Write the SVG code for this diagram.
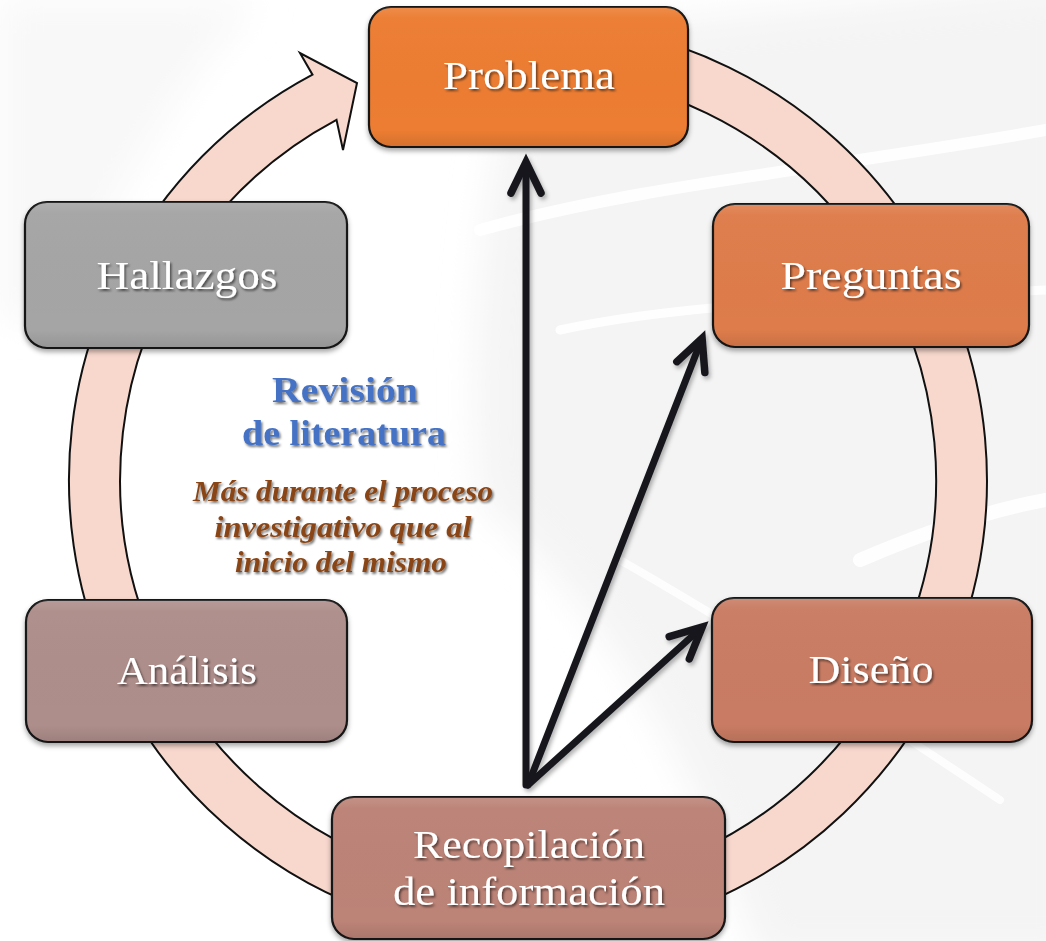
<svg xmlns="http://www.w3.org/2000/svg" width="1046" height="941" viewBox="0 0 1046 941">
<defs>
<style>
.ring{fill:#F8D8CD;stroke:#111;stroke-width:2;stroke-linejoin:miter}
.box{stroke:#141414;stroke-width:2.2}
.gloss{fill:url(#gloss);stroke:none}
.hl{stroke:url(#hlg);stroke-width:3.5;stroke-linecap:round;fill:none}
.lbl{font-family:"Liberation Serif","DejaVu Serif",serif;font-size:40px;fill:#FFFFFF;text-anchor:middle}
.rev{font-family:"Liberation Serif","DejaVu Serif",serif;font-size:35px;font-weight:bold;fill:#4472C4;text-anchor:middle}
.note{font-family:"Liberation Serif","DejaVu Serif",serif;font-size:29px;font-weight:bold;font-style:italic;fill:#8A4515;text-anchor:middle}
.arr{stroke:#15181C;stroke-width:7;stroke-linecap:round;fill:none;marker-end:url(#chev)}
.bgs{fill:none;stroke:#FFFFFF;stroke-linecap:round}
</style>
<linearGradient id="gloss" x1="0" y1="0" x2="0" y2="1">
<stop offset="0" stop-color="#FFFFFF" stop-opacity="0.12"/>
<stop offset="0.08" stop-color="#FFFFFF" stop-opacity="0.02"/>
<stop offset="0.88" stop-color="#000000" stop-opacity="0"/>
<stop offset="1" stop-color="#000000" stop-opacity="0.1"/>
</linearGradient>
<linearGradient id="hlg" x1="0" y1="0" x2="0" y2="1">
<stop offset="0" stop-color="#FFFFFF" stop-opacity="0.95"/>
<stop offset="0.5" stop-color="#FFFFFF" stop-opacity="0.8"/>
<stop offset="1" stop-color="#FFFFFF" stop-opacity="0.95"/>
</linearGradient>
<filter id="shadow" x="-10%" y="-10%" width="120%" height="130%">
<feDropShadow dx="0" dy="3" stdDeviation="2.5" flood-color="#000" flood-opacity="0.35"/>
</filter>
<filter id="tshadow" x="-10%" y="-20%" width="120%" height="150%">
<feDropShadow dx="1.5" dy="2" stdDeviation="1.3" flood-color="#000" flood-opacity="0.55"/>
</filter>
<filter id="ashadow" x="-20%" y="-5%" width="140%" height="110%">
<feDropShadow dx="2" dy="3" stdDeviation="2" flood-color="#000" flood-opacity="0.3"/>
</filter>
<filter id="soft" x="-20%" y="-20%" width="140%" height="140%">
<feGaussianBlur stdDeviation="18"/>
</filter>
<marker id="chev" markerUnits="userSpaceOnUse" viewBox="-40 -20 50 40" markerWidth="50" markerHeight="40" refX="-3" refY="0" orient="auto" overflow="visible">
<path d="M-31,-15 L0,0 L-31,15" fill="none" stroke="#15181C" stroke-width="7.5" stroke-linecap="round" stroke-linejoin="miter"/>
</marker>
</defs>

<g id="background">
<rect x="0" y="0" width="1046" height="941" fill="#FFFFFF"/>
<g filter="url(#soft)">
<path d="M520,40 C640,20 800,10 1080,-20 L1080,960 L760,960 C700,780 620,620 480,500 C470,360 480,200 520,40 Z" fill="#F4F4F4"/>
<path d="M20,0 L260,0 C180,80 110,200 60,320 L0,320 L0,0 Z" fill="#F8F8F8"/>
</g>
<path class="bgs" stroke-width="12" opacity="0.9" d="M480,230 C640,185 820,170 1046,130"/>
<path class="bgs" stroke-width="9" opacity="0.9" d="M560,330 C700,300 860,300 1046,290"/>
<path class="bgs" stroke-width="14" opacity="0.9" d="M860,560 C930,530 990,510 1046,500"/>
<path class="bgs" stroke-width="8" opacity="0.8" d="M620,560 C760,640 880,720 1000,800"/>
</g>

<g id="cycle-ring">
<path class="ring" d="M528,21 A459,459 0 1 1 312.5,74.7 L300,53 L357,83 L343,150 L336.5,119.8 A408,408 0 1 0 528,72 Z"/>
</g>

<g id="connectors" filter="url(#ashadow)">
<path class="arr" d="M526,785 L526,165"/>
<path class="arr" d="M528,785 L701,341"/>
<path class="arr" d="M528,785 L700,629"/>
</g>

<g id="node-problema">
<g filter="url(#shadow)"><rect class="box" x="369" y="7" width="319" height="140" rx="22" fill="#EC7D31"/></g>
<rect class="gloss" x="369" y="7" width="319" height="140" rx="22"/>
<path class="hl" d="M378,25 L378,128"/>
<path class="hl" d="M680,32 L680,125"/>
<text class="lbl" x="529" y="89" textLength="172" lengthAdjust="spacingAndGlyphs" filter="url(#tshadow)">Problema</text>
</g>

<g id="node-preguntas">
<g filter="url(#shadow)"><rect class="box" x="713" y="204" width="316" height="143" rx="22" fill="#DE7C4B"/></g>
<rect class="gloss" x="713" y="204" width="316" height="143" rx="22"/>
<path class="hl" d="M722,222 L722,326"/>
<path class="hl" d="M1021,228 L1021,322"/>
<text class="lbl" x="871" y="289" textLength="181" lengthAdjust="spacingAndGlyphs" filter="url(#tshadow)">Preguntas</text>
</g>

<g id="node-diseno">
<g filter="url(#shadow)"><rect class="box" x="712" y="598" width="320" height="144" rx="22" fill="#C97B64"/></g>
<rect class="gloss" x="712" y="598" width="320" height="144" rx="22"/>
<path class="hl" d="M722,616 L722,722"/>
<path class="hl" d="M1023,622 L1023,718"/>
<text class="lbl" x="871" y="683" textLength="125" lengthAdjust="spacingAndGlyphs" filter="url(#tshadow)">Diseño</text>
</g>

<g id="node-recopilacion">
<g filter="url(#shadow)"><rect class="box" x="332" y="797" width="393" height="142" rx="22" fill="#BC8377"/></g>
<rect class="gloss" x="332" y="797" width="393" height="142" rx="22"/>
<path class="hl" d="M342,815 L342,920"/>
<path class="hl" d="M716,822 L716,916"/>
<text class="lbl" x="529" y="858" textLength="232" lengthAdjust="spacingAndGlyphs" filter="url(#tshadow)">Recopilación</text>
<text class="lbl" x="529" y="905" textLength="272" lengthAdjust="spacingAndGlyphs" filter="url(#tshadow)">de información</text>
</g>

<g id="node-analisis">
<g filter="url(#shadow)"><rect class="box" x="26" y="600" width="321" height="142" rx="22" fill="#AE8E8B"/></g>
<rect class="gloss" x="26" y="600" width="321" height="142" rx="22"/>
<path class="hl" d="M36,618 L36,722"/>
<path class="hl" d="M338,624 L338,718"/>
<text class="lbl" x="187" y="684" textLength="140" lengthAdjust="spacingAndGlyphs" filter="url(#tshadow)">Análisis</text>
</g>

<g id="node-hallazgos">
<g filter="url(#shadow)"><rect class="box" x="25" y="202" width="322" height="146" rx="22" fill="#A5A5A5"/></g>
<rect class="gloss" x="25" y="202" width="322" height="146" rx="22"/>
<path class="hl" d="M35,220 L35,328"/>
<path class="hl" d="M338,226 L338,324"/>
<text class="lbl" x="187" y="289" textLength="181" lengthAdjust="spacingAndGlyphs" filter="url(#tshadow)">Hallazgos</text>
</g>

<g id="label-revision">
<text class="rev" x="345" y="402" textLength="146" lengthAdjust="spacingAndGlyphs" filter="url(#tshadow)">Revisión</text>
<text class="rev" x="344" y="445" textLength="204" lengthAdjust="spacingAndGlyphs" filter="url(#tshadow)">de literatura</text>
<text class="note" x="343" y="501" textLength="300" lengthAdjust="spacingAndGlyphs" filter="url(#tshadow)">Más durante el proceso</text>
<text class="note" x="343" y="537" textLength="257" lengthAdjust="spacingAndGlyphs" filter="url(#tshadow)">investigativo que al</text>
<text class="note" x="341" y="572" textLength="212" lengthAdjust="spacingAndGlyphs" filter="url(#tshadow)">inicio del mismo</text>
</g>
</svg>
